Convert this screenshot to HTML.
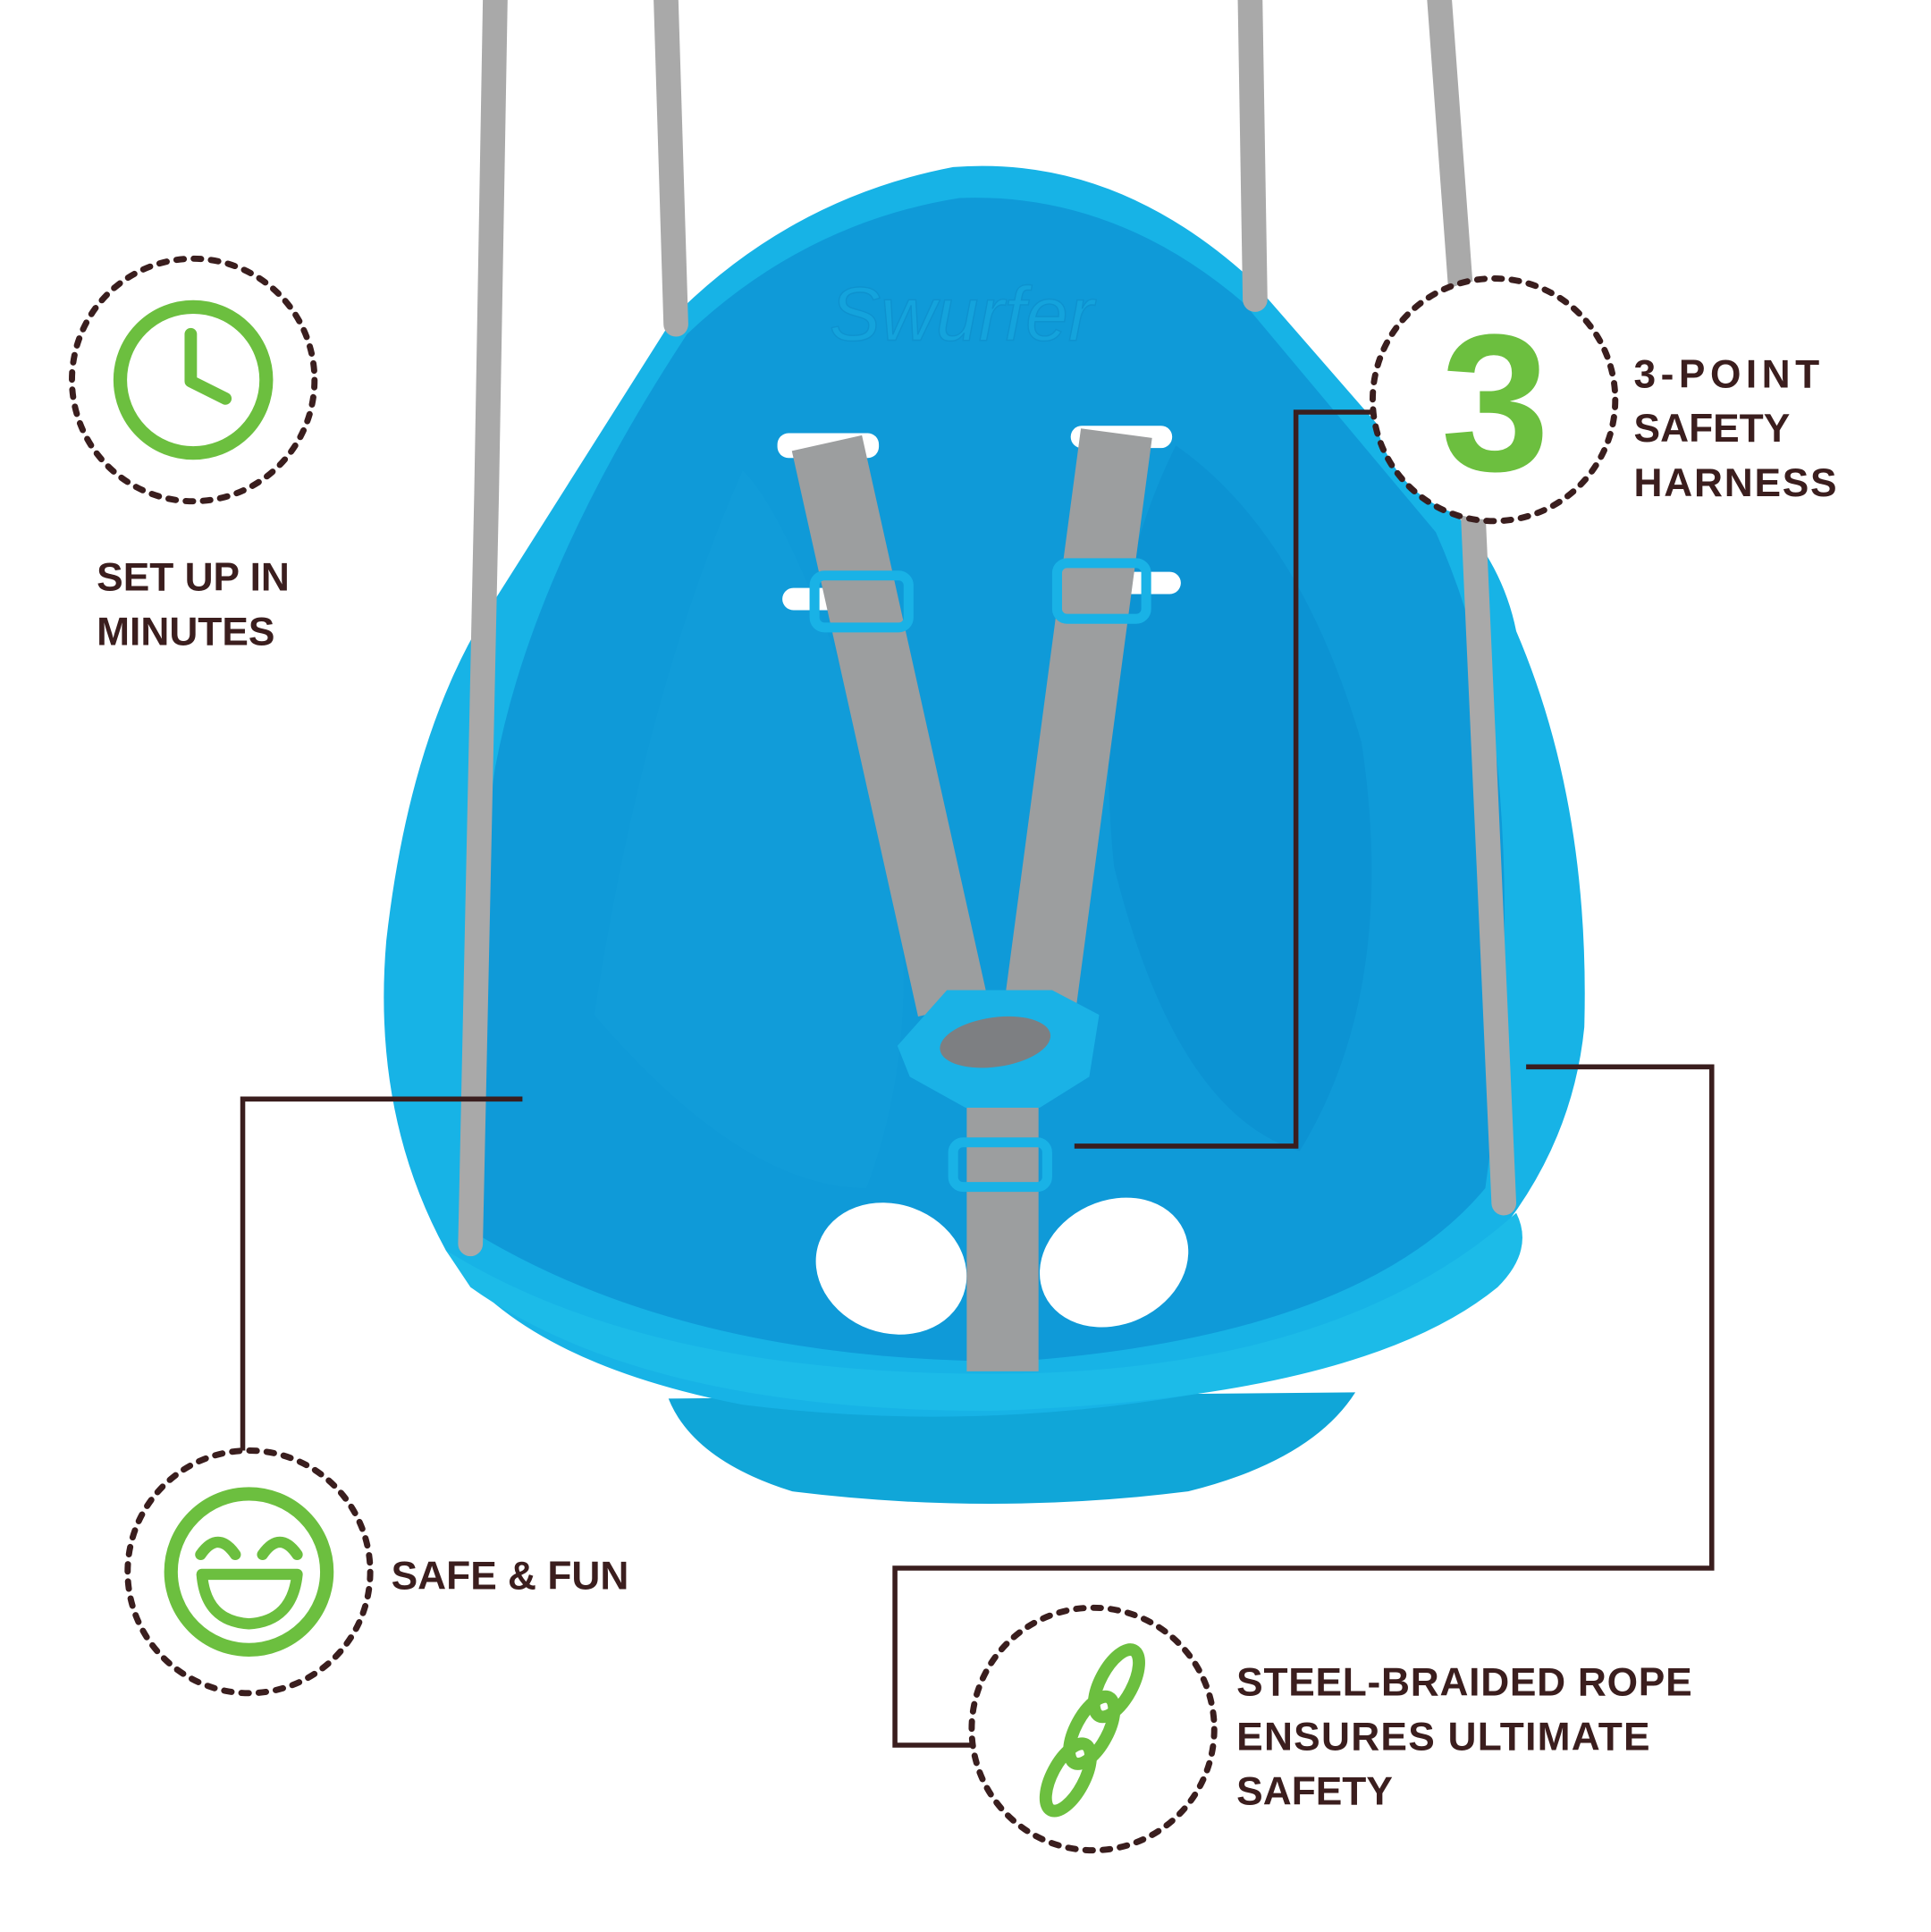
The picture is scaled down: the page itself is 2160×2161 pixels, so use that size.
<!DOCTYPE html>
<html><head><meta charset="utf-8"><style>html,body{margin:0;padding:0;background:#fff}svg{display:block}</style></head>
<body>
<svg width="2160" height="2161" viewBox="0 0 1560 1561" xmlns="http://www.w3.org/2000/svg">
<rect width="1560" height="1561" fill="#fff"/>
<path d="M540 1130 Q560 1180 640 1205 Q800 1225 960 1205 Q1060 1180 1095 1125 Z" fill="#10a6d8"/>
<path d="M545 255 Q640 160 770 135 Q900 125 1010 225 L1180 420 Q1215 460 1225 510 Q1285 650 1280 830 Q1270 930 1200 1010 Q1120 1090 1000 1120 Q800 1160 600 1135 Q420 1100 360 1010 Q300 900 312 760 Q330 600 390 500 Z" fill="#17b3e6"/>
<path d="M555 270 Q650 180 775 160 Q900 155 1005 245 L1160 430 Q1200 520 1210 620 Q1225 780 1200 960 Q1100 1080 820 1100 Q560 1100 390 1000 Q370 820 400 620 Q430 460 555 270 Z" fill="#0f9ad8"/>
<path d="M600 380 Q640 420 700 600 Q760 800 700 960 Q600 960 480 820 Q520 560 600 380Z" fill="#129fdb" opacity="0.6"/>
<path d="M950 360 Q1050 430 1100 600 Q1130 800 1050 930 Q950 900 900 700 Q880 500 950 360Z" fill="#0a8ccd" opacity="0.5"/>
<path d="M360 1010 Q520 1110 800 1110 Q1080 1110 1225 980 Q1240 1010 1210 1040 Q1100 1130 800 1140 Q520 1140 380 1040 Z" fill="#1cbbe8"/>
<text x="670" y="275" font-family="Liberation Sans, sans-serif" font-style="italic" font-size="62" fill="#14a3dc" stroke="#0e92cf" stroke-width="1">Swurfer</text>
<ellipse cx="720" cy="1025" rx="62" ry="52" fill="#fff" transform="rotate(20 720 1025)"/>
<ellipse cx="900" cy="1020" rx="62" ry="50" fill="#fff" transform="rotate(-25 900 1020)"/>
<rect x="628" y="350" width="82" height="20" rx="9" fill="#fff"/>
<rect x="865" y="344" width="82" height="18" rx="9" fill="#fff"/>
<rect x="632" y="475" width="80" height="18" rx="9" fill="#fff"/>
<rect x="872" y="462" width="82" height="18" rx="9" fill="#fff"/>
<g stroke="#a9a9a9" stroke-width="20" stroke-linecap="round" fill="none">
<path d="M400 0 L393 400 L380 1005"/>
<path d="M538 0 L546 262"/>
<path d="M1010 0 L1014 242"/>
<path d="M1163 0 L1185 300 L1203 700 L1215 972"/>
</g>
<g stroke="#9c9e9f" stroke-width="58" fill="none">
<path d="M668 358 L770 815"/>
<path d="M902 350 L840 815"/>
<path d="M810 895 L810 1108"/>
</g>
<rect x="658" y="465" width="76" height="42" rx="8" fill="none" stroke="#19b2e6" stroke-width="8"/>
<rect x="854" y="455" width="72" height="45" rx="8" fill="none" stroke="#19b2e6" stroke-width="8"/>
<rect x="770" y="923" width="76" height="36" rx="8" fill="none" stroke="#19b2e6" stroke-width="8"/>
<path d="M725 845 L765 800 L850 800 L888 820 L880 870 L840 895 L780 895 L735 870Z" fill="#1ab2e6"/>
<ellipse cx="804" cy="842" rx="45" ry="20" fill="#7d7f82" transform="rotate(-8 804 842)"/>
<g stroke="#3a1e1e" stroke-width="4" fill="none">
<path d="M422 888 H196 V1172"/>
<path d="M868 926 H1047 V333 H1110"/>
<path d="M1233 862 H1383 V1267 H723 V1410 H785"/>
</g>
<circle cx="1207" cy="323" r="97" fill="#fff"/>
<g stroke="#3a1e1e" stroke-width="5" fill="none" stroke-dasharray="6 8" stroke-linecap="round">
<circle cx="156" cy="307" r="98"/>
<circle cx="1207" cy="323" r="98"/>
<circle cx="201" cy="1270" r="98"/>
<circle cx="883" cy="1397" r="98"/>
</g>
<circle cx="156" cy="307" r="59" fill="none" stroke="#6cbf3f" stroke-width="11"/>
<path d="M154 270 V308 L182 322" fill="none" stroke="#6cbf3f" stroke-width="10" stroke-linecap="round" stroke-linejoin="round"/>
<text x="1208" y="380" text-anchor="middle" font-family="Liberation Sans, sans-serif" font-weight="bold" font-size="158" fill="#6cbf3f">3</text>
<circle cx="201" cy="1270" r="63" fill="none" stroke="#6cbf3f" stroke-width="11"/>
<path d="M162 1256 Q176 1236 190 1256 M212 1256 Q226 1236 240 1256" fill="none" stroke="#6cbf3f" stroke-width="9" stroke-linecap="round"/>
<path d="M163 1272 H240 Q236 1310 201 1312 Q166 1310 163 1272Z" fill="none" stroke="#6cbf3f" stroke-width="9" stroke-linejoin="round"/>
<g fill="none" stroke="#6cbf3f" stroke-width="10">
<ellipse cx="902" cy="1360" rx="13" ry="30" transform="rotate(28 902 1360)"/>
<ellipse cx="882" cy="1398" rx="13" ry="30" transform="rotate(28 882 1398)"/>
<ellipse cx="863" cy="1436" rx="13" ry="30" transform="rotate(28 863 1436)"/>
</g>
<g font-family="Liberation Sans, sans-serif" font-weight="bold" font-size="32" fill="#3b1e1e">
<text x="78" y="477">SET UP IN</text>
<text x="78" y="521">MINUTES</text>
<text x="1320" y="313" textLength="150">3-POINT</text>
<text x="1320" y="357">SAFETY</text>
<text x="1320" y="401" textLength="164">HARNESS</text>
<text x="316" y="1284">SAFE &amp; FUN</text>
<text x="999" y="1370" textLength="368">STEEL-BRAIDED ROPE</text>
<text x="999" y="1414" textLength="334">ENSURES ULTIMATE</text>
<text x="999" y="1458">SAFETY</text>
</g>
</svg>
</body></html>
